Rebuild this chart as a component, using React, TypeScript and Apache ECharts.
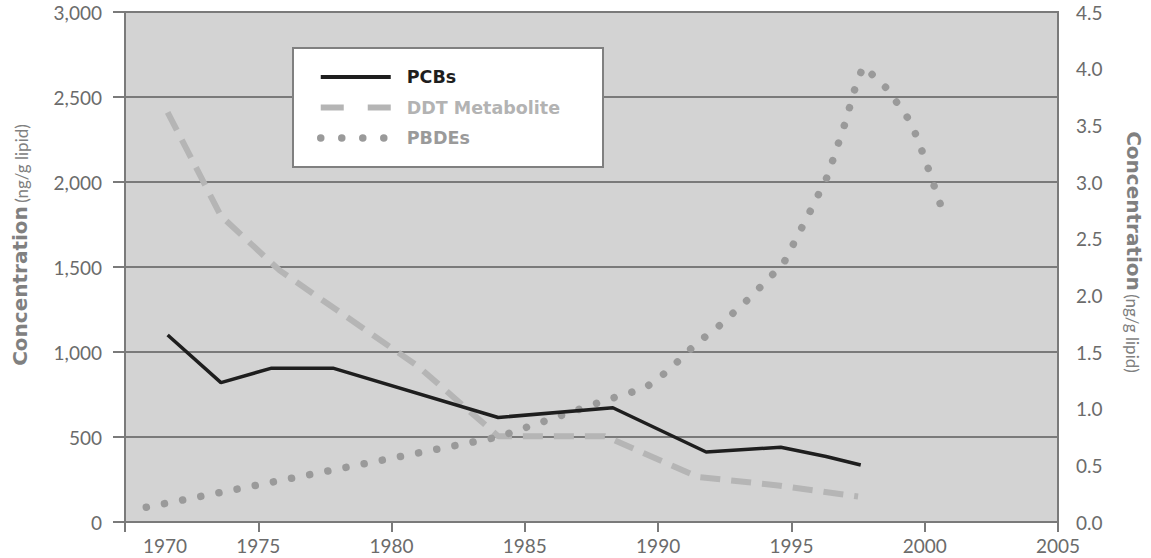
import React, { useEffect, useRef } from 'react';
import * as echarts from 'echarts';

// ---- data ----
const xTicks = [1970, 1975, 1980, 1985, 1990, 1995, 2000, 2005];

const pcbYears = [1971.6, 1973.6, 1975.5, 1977.8, 1984.0, 1988.3, 1991.8, 1994.6, 1996.3, 1997.6];
const pcbValues = [1100, 820, 905, 905, 615, 672, 412, 440, 385, 335];

const ddtYears = [1971.6, 1973.6, 1975.8, 1981.0, 1984.0, 1988.0, 1991.5, 1994.5, 1997.5];
const ddtValues = [2410, 1800, 1480, 915, 505, 505, 265, 215, 150];

const pbdeYears = [1970.8, 1984.0, 1988.1, 1989.5, 1990.4, 1991.5, 1992.1, 1993.4, 1994.7, 1995.7, 1996.35, 1997.0, 1997.45, 1997.7, 1998.2, 1998.6, 1999.05, 1999.5, 2000.0, 2000.65];
const pbdeValues = [0.13, 0.75, 1.08, 1.18, 1.34, 1.59, 1.69, 1.97, 2.28, 2.74, 3.05, 3.51, 3.88, 4.02, 3.91, 3.82, 3.67, 3.52, 3.21, 2.76];

const seriesNames = ['PCBs', 'DDT Metabolite', 'PBDEs'];
const axisTitleMain = 'Concentration';
const axisTitleUnit = '(ng/g lipid)';

const AXIS = '#7a7a7a';
const LABEL = '#6b6b6b';
const TITLE = '#808080';

export default function App() {
  const ref = useRef<HTMLDivElement>(null);
  useEffect(() => {
    const chart = echarts.init(ref.current!, null, { renderer: 'svg' });
    const pair = (xs: number[], ys: number[]) => xs.map((x, i) => [x, ys[i]]);
    const titleRich = {
      b: { fontFamily: 'DejaVu Sans', fontWeight: 'bold', fontSize: 20, fill: TITLE, verticalAlign: 'bottom' },
      r: { fontFamily: 'Lato', fontSize: 17, fill: TITLE, verticalAlign: 'bottom' },
    };
    const option: any = {
      animation: false,
      grid: {
        left: 125, right: 93, top: 12, bottom: 36,
        show: true, backgroundColor: '#d3d3d3', borderColor: AXIS, borderWidth: 2,
      },
      xAxis: {
        type: 'value', min: xTicks[0], max: xTicks[xTicks.length - 1], interval: 5,
        axisLine: { show: true, lineStyle: { color: AXIS, width: 2 } },
        axisTick: { show: true, length: 10, lineStyle: { color: AXIS, width: 2 } },
        splitLine: { show: false },
        axisLabel: {
          color: LABEL, fontFamily: 'Lato', fontSize: 19, margin: 14,
          formatter: (v: number) => (v === xTicks[0] ? '{f|' + v + '}' : String(v)),
          rich: { f: { padding: [0, 0, 0, 80], fontFamily: 'Lato', fontSize: 19, color: LABEL } },
        },
      },
      yAxis: [
        {
          type: 'value', min: 0, max: 3000, interval: 500, position: 'left',
          axisLine: { show: true, lineStyle: { color: AXIS, width: 2 } },
          axisTick: { show: true, length: 12, lineStyle: { color: AXIS, width: 2 } },
          splitLine: { show: true, lineStyle: { color: AXIS, width: 2 } },
          axisLabel: {
            color: LABEL, fontFamily: 'Lato', fontSize: 19, margin: 23,
            formatter: (v: number) => v.toLocaleString('en-US'),
          },
        },
        {
          type: 'value', min: 0, max: 4.5, interval: 0.5, position: 'right',
          axisLine: { show: true, lineStyle: { color: AXIS, width: 2 } },
          axisTick: { show: false },
          splitLine: { show: false },
          axisLabel: {
            color: LABEL, fontFamily: 'Lato', fontSize: 19, margin: 18,
            formatter: (v: number) => v.toFixed(1),
          },
        },
      ],
      legend: {
        show: true, orient: 'vertical', left: 317, top: 68,
        itemWidth: 70, itemHeight: 14, itemGap: 12.5, padding: 0, selectedMode: false,
        itemStyle: { opacity: 0 },
        textStyle: { fontFamily: 'DejaVu Sans', fontWeight: 'bold', fontSize: 17.5, padding: [0, 0, 0, 11] },
        data: [
          { name: seriesNames[0], itemStyle: { opacity: 0 }, textStyle: { color: '#1e1e1e' }, lineStyle: { width: 4, color: '#1e1e1e' } },
          { name: seriesNames[1], itemStyle: { opacity: 0 }, textStyle: { color: '#b3b3b3' }, lineStyle: { width: 6, type: [23, 24], color: '#b5b5b5' } },
          { name: seriesNames[2], itemStyle: { opacity: 0 }, textStyle: { color: '#9a9a9a' }, lineStyle: { width: 7.5, type: [0.01, 21], cap: 'round', color: '#9a9a9a' } },
        ],
      },
      graphic: [
        {
          type: 'rect', z: 3,
          shape: { x: 293, y: 48, width: 310, height: 119 },
          style: { fill: '#ffffff', stroke: '#808080', lineWidth: 2 },
        },
        {
          type: 'text', x: 20, y: 245, rotation: Math.PI / 2, z: 3,
          style: {
            text: '{b|' + axisTitleMain + '} {r|' + axisTitleUnit + '}',
            textAlign: 'center', textVerticalAlign: 'middle', fill: TITLE, rich: titleRich,
          },
        },
        {
          type: 'text', x: 1134, y: 252, rotation: -Math.PI / 2, z: 3,
          style: {
            text: '{b|' + axisTitleMain + '} {r|' + axisTitleUnit + '}',
            textAlign: 'center', textVerticalAlign: 'middle', fill: TITLE, rich: titleRich,
          },
        },
      ],
      series: [
        {
          type: 'line', name: seriesNames[1], yAxisIndex: 0, symbol: 'none', z: 3,
          data: pair(ddtYears, ddtValues),
          lineStyle: { color: '#b5b5b5', width: 6, type: [20, 11] },
          itemStyle: { color: '#b5b5b5' },
        },
        {
          type: 'line', name: seriesNames[2], yAxisIndex: 1, symbol: 'none', z: 3,
          data: pair(pbdeYears, pbdeValues),
          lineStyle: { color: '#9a9a9a', width: 7.5, type: [0.01, 18.5], cap: 'round' },
          itemStyle: { color: '#9a9a9a' },
        },
        {
          type: 'line', name: seriesNames[0], yAxisIndex: 0, symbol: 'none', z: 4,
          data: pair(pcbYears, pcbValues),
          lineStyle: { color: '#1e1e1e', width: 3.5 },
          itemStyle: { color: '#1e1e1e' },
        },
      ],
    };
    chart.setOption(option);
    return () => chart.dispose();
  }, []);
  return <div ref={ref} style={{ position: 'absolute', left: 0, top: 0, width: 1151, height: 558 }} />;
}
